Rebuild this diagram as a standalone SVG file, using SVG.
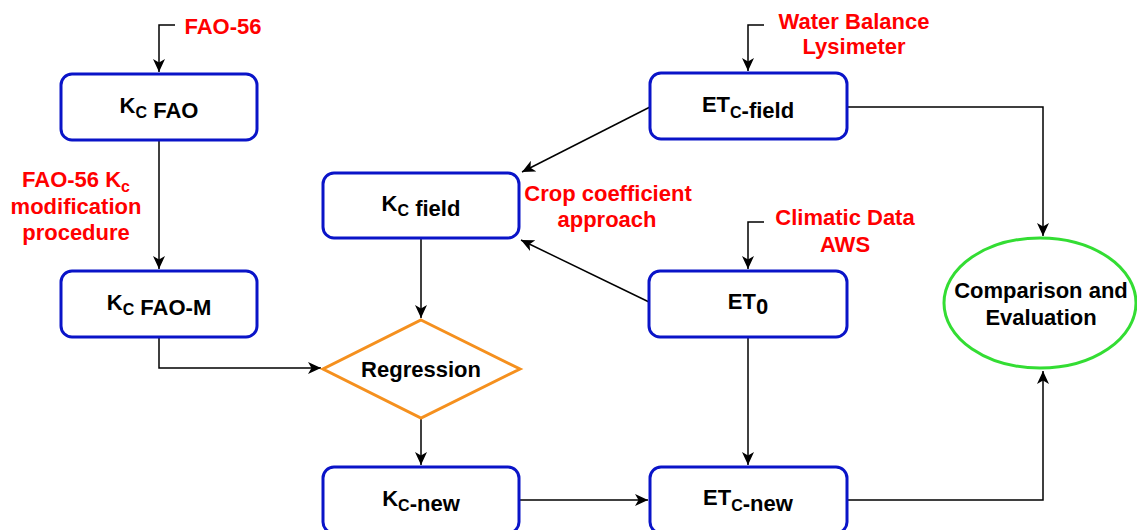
<svg xmlns="http://www.w3.org/2000/svg" width="1137" height="530" viewBox="0 0 1137 530">
<defs>
<style>
.box{fill:#fff;stroke:#0A14C8;stroke-width:3}
.t{font-family:"Liberation Sans",Arial,sans-serif;font-weight:bold;font-size:22px;fill:#000;text-anchor:middle}
.r{font-family:"Liberation Sans",Arial,sans-serif;font-weight:bold;font-size:22px;fill:#FF0000;text-anchor:middle}
.s{font-size:16px}
.c{fill:none;stroke:#000;stroke-width:1.5}
</style>
<marker id="ah" markerUnits="userSpaceOnUse" markerWidth="14" markerHeight="12" viewBox="0 0 14 12" refX="13" refY="6" orient="auto">
<path d="M0,0 L13,6 L0,12 L3.5,6 Z" fill="#000"/>
</marker>
</defs>
<rect width="1137" height="530" fill="#fff"/>
<g id="connectors">
<path class="c" d="M175,25 H159 V72" marker-end="url(#ah)"/>
<path class="c" d="M159,140 V269" marker-end="url(#ah)"/>
<path class="c" d="M159,337 V368 H321" marker-end="url(#ah)"/>
<path class="c" d="M421,238 V318" marker-end="url(#ah)"/>
<path class="c" d="M421,418 V465" marker-end="url(#ah)"/>
<path class="c" d="M519,500 H648" marker-end="url(#ah)"/>
<path class="c" d="M764,25 H748 V71" marker-end="url(#ah)"/>
<path class="c" d="M764,222 H748 V269" marker-end="url(#ah)"/>
<path class="c" d="M650,107 L522,172" marker-end="url(#ah)"/>
<path class="c" d="M649,302 L521,240" marker-end="url(#ah)"/>
<path class="c" d="M748,337 V465" marker-end="url(#ah)"/>
<path class="c" d="M847,107 H1043 V236" marker-end="url(#ah)"/>
<path class="c" d="M847,500 H1043 V371" marker-end="url(#ah)"/>
</g>
<g id="label-fao56"><text class="r" x="223" y="34">FAO-56</text></g>
<g id="label-modification">
<text class="r" x="76" y="187">FAO-56 K<tspan class="s" dy="5">c</tspan></text>
<text class="r" x="76" y="214">modification</text>
<text class="r" x="76" y="240">procedure</text>
</g>
<g id="label-water"><text class="r" x="854" y="29">Water Balance</text><text class="r" x="854" y="54">Lysimeter</text></g>
<g id="label-climatic"><text class="r" x="845" y="225">Climatic Data</text><text class="r" x="845" y="252">AWS</text></g>
<g id="label-crop"><text class="r" x="608" y="201">Crop coefficient</text><text class="r" x="607" y="227">approach</text></g>
<g id="kc-fao"><rect class="box" x="61" y="74" width="196" height="66" rx="11"/>
<text class="t" x="159" y="113">K<tspan class="s" dy="5">C</tspan> FAO</text></g>
<g id="kc-fao-m"><rect class="box" x="61" y="271" width="196" height="66" rx="11"/>
<text class="t" x="159" y="310">K<tspan class="s" dy="5">C</tspan> FAO-M</text></g>
<g id="kc-field"><rect class="box" x="323" y="173" width="196" height="65" rx="11"/>
<text class="t" x="421" y="211">K<tspan class="s" dy="5">C</tspan> field</text></g>
<g id="regression"><polygon points="421,320 520,369 421,418 323,369" fill="#fff" stroke="#F5901E" stroke-width="3"/>
<text class="t" x="421" y="377">Regression</text></g>
<g id="kc-new"><rect class="box" x="323" y="467" width="196" height="66" rx="11"/>
<text class="t" x="421" y="506">K<tspan class="s" dy="5">C</tspan>-new</text></g>
<g id="etc-field"><rect class="box" x="650" y="73" width="197" height="66" rx="11"/>
<text class="t" x="748" y="112">ET<tspan class="s" dy="6">C</tspan>-field</text></g>
<g id="et0"><rect class="box" x="649" y="271" width="198" height="66" rx="11"/>
<text class="t" x="748" y="309">ET<tspan dy="5">0</tspan></text></g>
<g id="etc-new"><rect class="box" x="650" y="467" width="197" height="66" rx="11"/>
<text class="t" x="748" y="505">ET<tspan class="s" dy="6">C</tspan>-new</text></g>
<g id="comparison"><ellipse cx="1040" cy="303" rx="96" ry="65" fill="#fff" stroke="#33DD33" stroke-width="3"/>
<text class="t" x="1041" y="298">Comparison and</text><text class="t" x="1041" y="325">Evaluation</text></g>
</svg>
